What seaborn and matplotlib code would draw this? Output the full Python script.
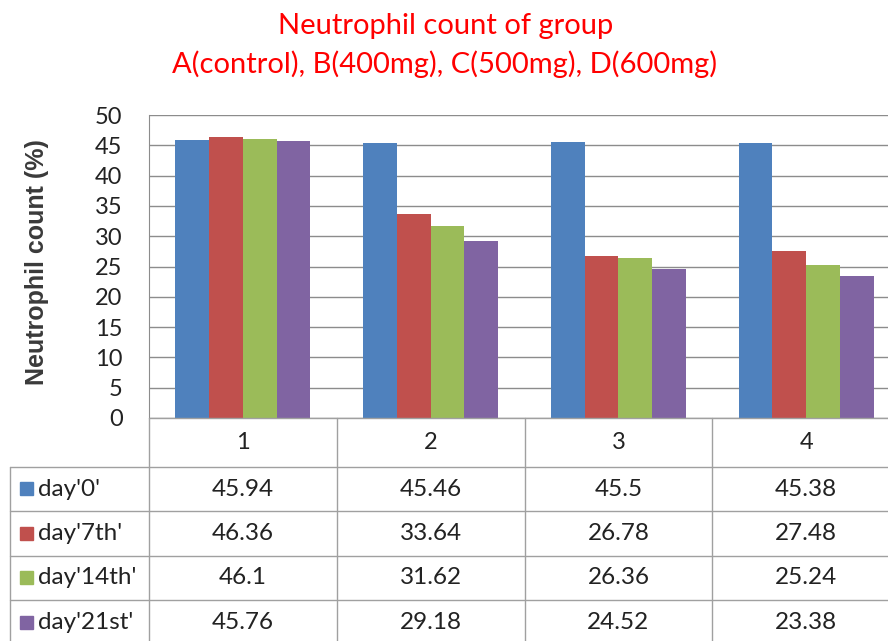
import numpy as np
import pandas as pd
import seaborn as sns
from matplotlib import pyplot as plt
from matplotlib import transforms
from matplotlib.patches import Rectangle
from matplotlib.lines import Line2D

# Chart data
groups = ['1', '2', '3', '4']
series = ["day'0'", "day'7th'", "day'14th'", "day'21st'"]
day0 = [45.94, 45.46, 45.5, 45.38]
day7 = [46.36, 33.64, 26.78, 27.48]
day14 = [46.1, 31.62, 26.36, 25.24]
day21 = [45.76, 29.18, 24.52, 23.38]
colors = ['#4F81BD', '#C0504D', '#9BBB59', '#8064A2']
yticks = [0, 5, 10, 15, 20, 25, 30, 35, 40, 45, 50]

values = [day0, day7, day14, day21]
df = pd.DataFrame({
    'group': groups * len(series),
    'series': [s for s in series for _ in groups],
    'value': [v for vals in values for v in vals],
})

sns.set_style('white')
plt.rcParams['font.family'] = ['Lato', 'DejaVu Sans']

W, H = 888, 641
fig = plt.figure(figsize=(W / 100, H / 100), dpi=100)

def fx(x):
    return x / W

def fy(y):
    return 1 - y / H

left, right, top, bottom = 149, 900, 115, 418
ax = fig.add_axes([fx(left), fy(bottom), fx(right) - fx(left), fy(top) - fy(bottom)])

sns.barplot(data=df, x='group', y='value', hue='series', palette=colors,
            saturation=1, width=0.72, edgecolor='none', legend=False, ax=ax)

ax.set_xlim(-0.5, 3.5)
ax.set_ylim(0, 50)
ax.set_yticks(yticks)
ax.set_yticklabels([str(t) for t in yticks], fontsize=17, color='#222222')
ax.tick_params(axis='y', length=0, pad=19)
ax.set_xticks([])
ax.set_xlabel('')
ax.set_ylabel('')
ax.grid(axis='y', color='#8c8c8c', linewidth=1)
ax.set_axisbelow(True)
for side in ['top', 'right', 'bottom']:
    ax.spines[side].set_visible(False)
ax.spines['left'].set_color('#8c8c8c')

# Title and y label
title_red = '#FF0000'
fig.text(fx(446), fy(26), 'Neutrophil count of group', color=title_red,
         fontsize=21, ha='center', va='center')
fig.text(fx(445), fy(64), 'A(control), B(400mg), C(500mg), D(600mg)', color=title_red,
         fontsize=21, ha='center', va='center')
fig.text(fx(37), fy(262), 'Neutrophil count (%)', rotation=90, fontsize=18,
         fontweight='bold', color='#3a3a3a', ha='center', va='center',
         family=['Liberation Sans', 'DejaVu Sans'])

# Data table below the plot
line_c = '#a0a0a0'
tr = transforms.blended_transform_factory(ax.transData, fig.transFigure)
row_edges = [418, 467, 511, 556, 600, 645]
table_left = 10

# horizontal lines
fig.add_artist(Line2D([fx(left), fx(right)], [fy(row_edges[0])] * 2, color=line_c, lw=1))
for y in row_edges[1:-1]:
    fig.add_artist(Line2D([fx(table_left), fx(right)], [fy(y)] * 2, color=line_c, lw=1))
# vertical lines
fig.add_artist(Line2D([fx(table_left)] * 2, [fy(row_edges[1]), fy(row_edges[-1])], color=line_c, lw=1))
for i in range(len(groups) + 1):
    fig.add_artist(Line2D([i - 0.5] * 2, [fy(row_edges[0]), fy(row_edges[-1])],
                          transform=tr, color=line_c, lw=1))

# header row
hy = (row_edges[0] + row_edges[1]) / 2
for i, g in enumerate(groups):
    fig.text(i, fy(hy), g, transform=tr, ha='center', va='center', fontsize=17, color='#222222')

# series rows
for r, (name, vals, c) in enumerate(zip(series, values, colors)):
    yc = (row_edges[r + 1] + row_edges[r + 2]) / 2
    fig.add_artist(Rectangle((fx(20), fy(yc + 6)), fx(13), fy(0) - fy(13), color=c))
    fig.text(fx(38), fy(yc), name, ha='left', va='center', fontsize=17.5, color='#222222')
    for i, v in enumerate(vals):
        fig.text(i, fy(yc), f'{v:g}', transform=tr, ha='center', va='center',
                 fontsize=17.5, color='#222222')

fig.savefig('out.png', dpi=100)
